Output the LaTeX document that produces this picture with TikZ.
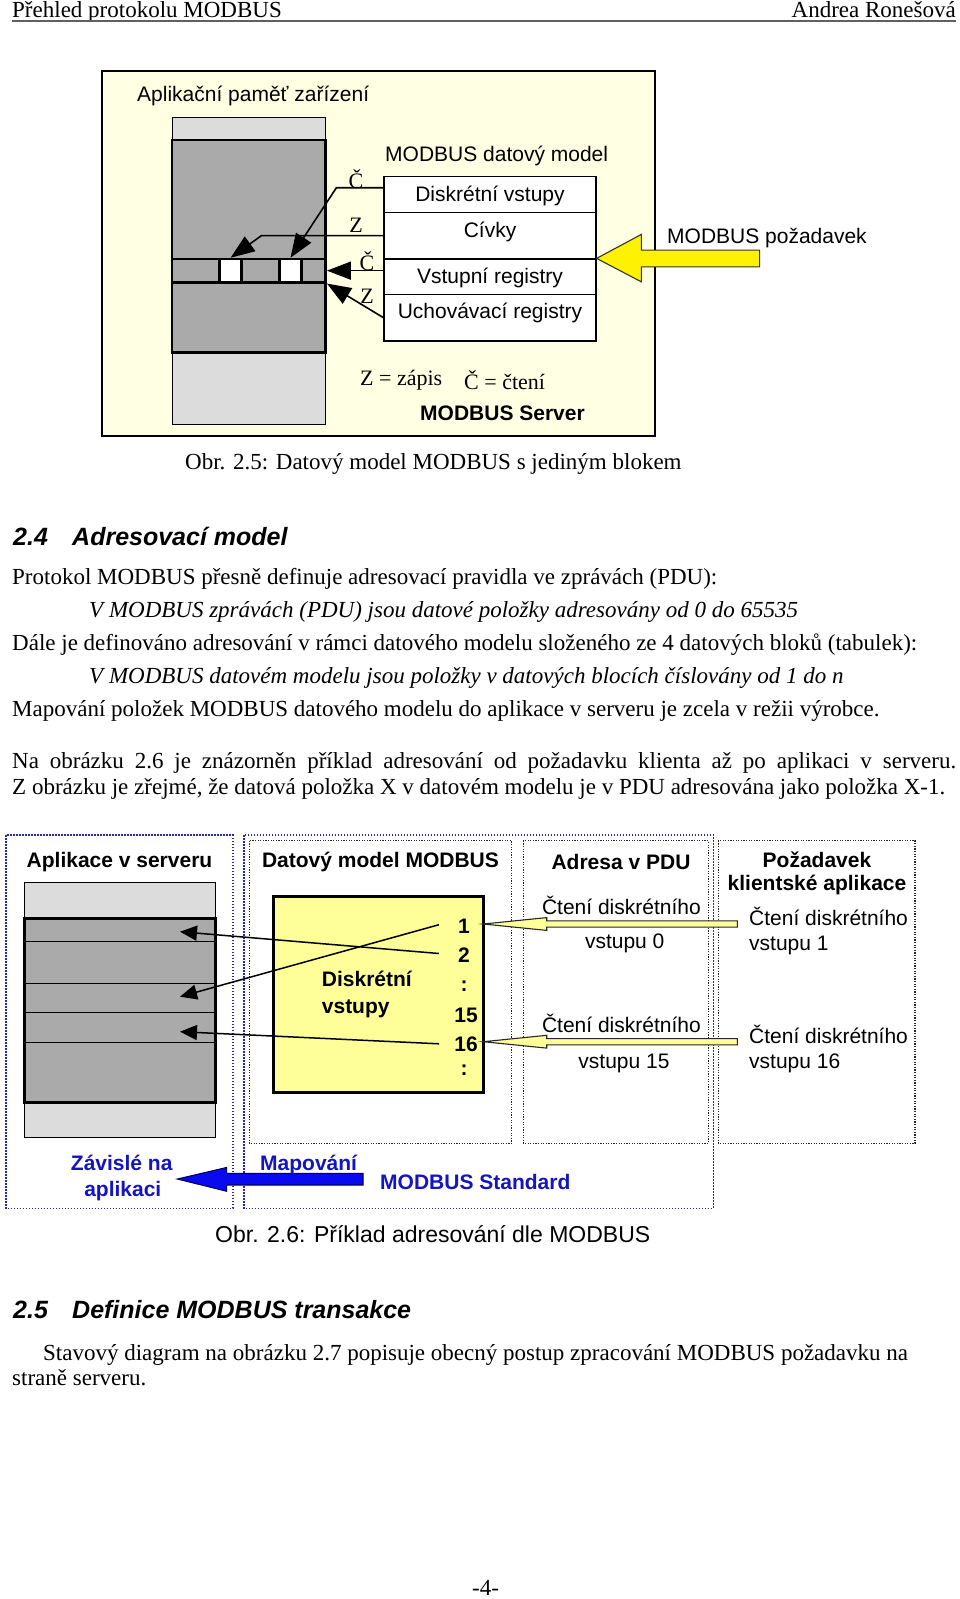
\documentclass[tikz,border=0pt]{standalone}
\usepackage{fontspec}
\setmainfont{Liberation Serif}
\newfontfamily\arialf{Liberation Sans}
\usetikzlibrary{arrows.meta,calc}
\definecolor{paleyel}{HTML}{FFFFE3}
\definecolor{yelbox}{HTML}{FFFF99}
\definecolor{lgrey}{HTML}{DCDCDC}
\definecolor{dgrey}{HTML}{AAAAAA}
\definecolor{myblue}{HTML}{1414C0}
\definecolor{dotblue}{HTML}{2A2AA0}
\definecolor{arrowblue}{HTML}{0A0AF0}
\definecolor{navy}{HTML}{000060}
\begin{document}
\begin{tikzpicture}[x=1pt,y=-1pt,
  every node/.style={inner sep=0pt},
  bodyt/.style={anchor=base west, font=\fontsize{23}{28}\selectfont},
  bodyi/.style={anchor=base west, font=\fontsize{23}{28}\selectfont\itshape},
  headt/.style={anchor=base west, font=\arialf\bfseries\itshape\fontsize{25}{30}\selectfont},
  dia/.style={font=\arialf\fontsize{21}{25}\selectfont},
  diab/.style={font=\arialf\bfseries\fontsize{21}{25}\selectfont},
  bluet/.style={font=\arialf\bfseries\fontsize{21}{25}\selectfont, text=myblue},
  tms/.style={font=\fontsize{22}{26}\selectfont},
  rowbox/.style={draw, fill=white, minimum width=212pt, line width=1.2pt},
  bigtip/.style={-{Triangle[length=24pt,width=18pt]}, line width=1.6pt},
  smalltip/.style={-{Triangle[length=17pt,width=15pt]}, line width=1.5pt},
  bluedot/.style={draw=dotblue, line width=1.6pt, dash pattern=on 1.6pt off 1.4pt},
  blackdot/.style={draw=black!85, line width=1.2pt, dash pattern=on 1.2pt off 1.4pt}]
\useasboundingbox (0,0) rectangle (960,1599);
\fill[white] (0,0) rectangle (960,1599);

% ---------- header ----------
\node[bodyt] (hl) at (12,17.5) {Přehled protokolu MODBUS};
\node[anchor=base east, font=\fontsize{23}{28}\selectfont] (hr) at (956,17.5) {Andrea Ronešová};
\draw[gray!75!black, line width=2.5pt] (12,20.8) -- (956,20.8);

% ---------- figure 2.5 ----------
\draw[fill=paleyel, line width=1.5pt] (102,71) rectangle (655,436);
\node[dia, anchor=west] (apl) at (137,96) {Aplikační paměť zařízení};

\node[draw, fill=lgrey, line width=1pt, minimum width=153.7pt, minimum height=306.3pt] (mem) at (248.85,270.85) {};
\node[draw, fill=dgrey, line width=2.5pt, minimum width=153.7pt, minimum height=212.7pt] (memd) at (248.85,246.35) {};
\node[draw, fill=dgrey, line width=2.5pt, minimum width=153.7pt, minimum height=23.3pt] (strip) at (248.85,270.65) {};
\node[draw, fill=white, line width=2.5pt, minimum width=22.2pt, minimum height=23.3pt] (sq1) at (230.6,270.65) {};
\node[draw, fill=white, line width=2.5pt, minimum width=22.2pt, minimum height=23.3pt] (sq2) at (290.5,270.65) {};

\node[dia, anchor=west] (mdm) at (385,156) {MODBUS datový model};
\node[rowbox, minimum height=35.6pt] (dv) at (490,194.5) {};
\node[rowbox, minimum height=46.7pt] (cv) at (490,235.65) {};
\node[rowbox, minimum height=35.3pt] (vr) at (490,276.65) {};
\node[rowbox, minimum height=46.7pt] (ur) at (490,317.65) {};
\node[dia] (dvt) at (490,195.5) {Diskrétní vstupy};
\node[dia] (cvt) at (490,231.5) {Cívky};
\node[dia] (vrt) at (490,277.5) {Vstupní registry};
\node[dia] (urt) at (490,312.5) {Uchovávací registry};

\draw[bigtip] ([yshift=6.8pt]dv.west) -- ++(-47,0) -- (sq2.north);
\draw[bigtip] (cv.west) -- ++(-122,0) -- (sq1.north);
\draw[bigtip] (strip.east -| vr.west) -- (strip.east);
\draw[bigtip] (ur.west) -- (strip.south east);
\node[tms] (l1) at (356,179) {Č};
\node[tms] (l2) at (356,225.5) {Z};
\node[tms] (l3) at (367,261) {Č};
\node[tms] (l4) at (367,296) {Z};

\draw[fill=yellow, draw=black!80, line width=1.1pt] (vr.north east) -- ++(44.7,-24) -- ++(0,15.7) -- ++(118.3,0) -- ++(0,16.7) -- ++(-118.3,0) -- ++(0,15) -- cycle;
\node[dia, anchor=west] (req) at (667,238) {MODBUS požadavek};

\node[tms, anchor=west] (zz) at (360,380) {Z = zápis};
\node[tms, anchor=west] (cc) at (464,380) {Č = čtení};
\node[diab, anchor=west] (srv) at (420,413) {MODBUS Server};

\node[bodyt] (cap1) at (185,469) {Obr. 2.5: Datový model MODBUS s jediným blokem};

% ---------- section 2.4 ----------
\node[headt] (h24n) at (13,545) {2.4};
\node[headt] (h24) at (72,545) {Adresovací model};
\node[bodyt] (p1) at (12,584.4) {Protokol MODBUS přesně definuje adresovací pravidla ve zprávách (PDU):};
\node[bodyi] (p2) at (89,617) {V MODBUS zprávách (PDU) jsou datové položky adresovány od 0 do 65535};
\node[bodyt] (p3) at (12,650.7) {Dále je definováno adresování v rámci datového modelu složeného ze 4 datových bloků (tabulek):};
\node[bodyi] (p4) at (89,683.4) {V MODBUS datovém modelu jsou položky v datových blocích číslovány od 1 do n};
\node[bodyt] (p5) at (12,716) {Mapování položek MODBUS datového modelu do aplikace v serveru je zcela v režii výrobce.};
\node[bodyt] (p6) at (12,768) {\makebox[944pt][s]{Na obrázku 2.6 je znázorněn příklad adresování od požadavku klienta až po aplikaci v serveru.}};
\node[bodyt] (p7) at (12,794.6) {Z obrázku je zřejmé, že datová položka X v datovém modelu je v PDU adresována jako položka X-1.};

% ---------- figure 2.6 ----------
\draw[bluedot] (6,835) rectangle (232.7,1208.3);
\draw[bluedot] (244,835) rectangle (713.3,1208.3);
\draw[blackdot] (249.3,840.7) rectangle (511.7,1143.3);
\draw[blackdot] (523.3,840.7) rectangle (708.3,1143.3);
\draw[blackdot] (718.3,840.7) rectangle (915,1143.3);

\node[diab] (ha) at (119.5,862) {Aplikace v serveru};
\node[diab] (hb) at (380.5,862) {Datový model MODBUS};
\node[diab] (hc) at (621,862) {Adresa v PDU};
\node[diab] (hd1) at (817,859.3) {Požadavek};
\node[diab] (hd2) at (817,884.7) {klientské aplikace};

\node[draw, fill=lgrey, line width=1.5pt, minimum width=191pt, minimum height=255.4pt] (app) at (119.8,1010) {};
\node[draw, fill=dgrey, line width=2.5pt, minimum width=191pt, minimum height=184.4pt] (appd) at (119.8,1010.5) {};
\foreach \yy in {941.7,983.3,1012.7,1042.7}
  \draw[line width=1.5pt] (24.3,\yy) -- (215.3,\yy);
\coordinate (t1) at (180,931.7);
\coordinate (t3) at (180,996.7);
\coordinate (t4) at (180,1031.7);

\node[draw, fill=yelbox, line width=2.5pt, minimum width=210pt, minimum height=196pt] (ybox) at (378.3,994.7) {};
\node[diab, anchor=west] (dsk1) at (321.7,979.3) {Diskrétní};
\node[diab, anchor=west] (dsk2) at (321.7,1008.7) {vstupy};
\node[diab] (n1) at (464,926.7) {1};
\node[diab] (n2) at (464,955) {2};
\node[diab] (nd1) at (464,985.7) {:};
\node[diab] (n15) at (466,1015.5) {15};
\node[diab] (n16) at (466,1043.8) {16};
\node[diab] (nd2) at (464,1070) {:};

\draw[smalltip] ([xshift=-19pt,yshift=2pt]n1.west) -- (t3);
\draw[smalltip] ([xshift=-19pt,yshift=1.5pt]n2.west) -- (t1);
\draw[smalltip] ([xshift=-15pt]n16.west) -- (t4);

\draw[fill=yelbox, draw=black!85, line width=1.1pt] (483.3,924) -- (546.7,917.6) -- (546.7,920.9) -- (737.3,920.9) -- (737.3,927.1) -- (546.7,927.1) -- (546.7,930.4) -- cycle;
\draw[fill=yelbox, draw=black!85, line width=1.1pt] (483.3,1041.7) -- (546.7,1035.3) -- (546.7,1038.6) -- (737.3,1038.6) -- (737.3,1044.8) -- (546.7,1044.8) -- (546.7,1048.1) -- cycle;

\node[dia] (c1) at (621.4,905.3) {Čtení diskrétního};
\node[dia] (c1b) at (624.7,943.3) {vstupu 0};
\node[dia] (c2) at (621.4,1023.7) {Čtení diskrétního};
\node[dia] (c2b) at (624,1063.7) {vstupu 15};
\node[dia, anchor=west] (r1) at (749,916) {Čtení diskrétního};
\node[dia, anchor=west] (r1b) at (749,945.3) {vstupu 1};
\node[dia, anchor=west] (r2) at (749,1034.3) {Čtení diskrétního};
\node[dia, anchor=west] (r2b) at (749,1063) {vstupu 16};

\draw[fill=arrowblue, draw=navy, line width=1.1pt] (177.5,1179) -- (226.5,1167.5) -- (226.5,1173.3) -- (363,1173.3) -- (363,1185) -- (226.5,1185) -- (226.5,1191.2) -- cycle;
\node[bluet] (zav1) at (121.7,1163.3) {Závislé na};
\node[bluet] (zav2) at (122.8,1191.3) {aplikaci};
\node[bluet, anchor=west] (map) at (260,1164.7) {Mapování};
\node[bluet, anchor=west] (std) at (380,1181.7) {MODBUS Standard};

\node[anchor=base west, font=\arialf\fontsize{23}{28}\selectfont] (cap2) at (215,1242) {Obr. 2.6: Příklad adresování dle MODBUS};

% ---------- section 2.5 ----------
\node[headt] (h25n) at (13,1318) {2.5};
\node[headt] (h25) at (72,1318) {Definice MODBUS transakce};
\node[bodyt] (q1) at (43,1360) {Stavový diagram na obrázku 2.7 popisuje obecný postup zpracování MODBUS požadavku na};
\node[bodyt] (q2) at (12,1385.5) {straně serveru.};
\node[anchor=base, font=\fontsize{23}{28}\selectfont] (pg) at (485.5,1595) {-4-};
\end{tikzpicture}
\end{document}
